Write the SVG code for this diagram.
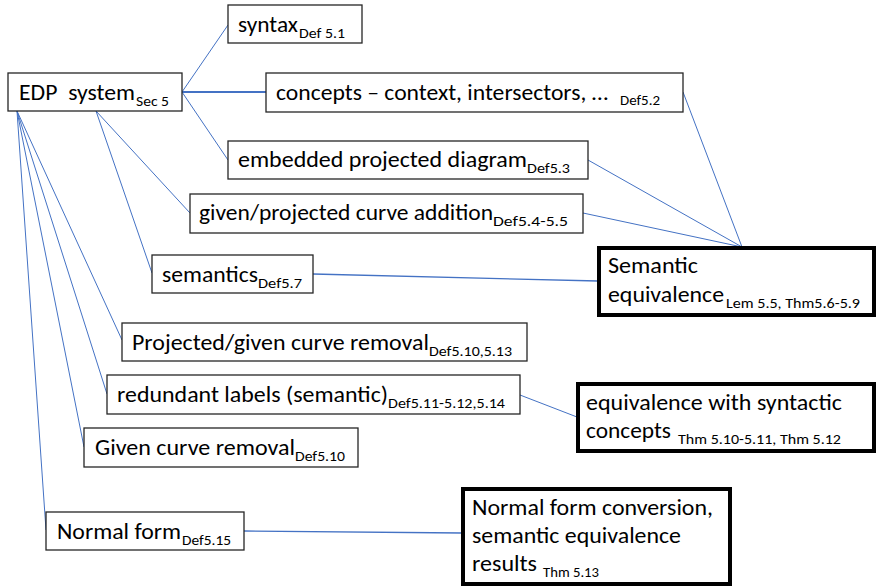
<svg xmlns="http://www.w3.org/2000/svg" width="876" height="588" viewBox="0 0 876 588">
<style>
.box{fill:#fff;stroke:#262626;stroke-width:1.3}
.tbox{fill:#fff;stroke:#000;stroke-width:4}
.c{stroke:#4472C4;stroke-width:1;fill:none}
.m{font-family:Calibri,Carlito,"Liberation Sans",Arial,sans-serif;font-size:23px;fill:#000}
.s{font-family:Calibri,Carlito,"Liberation Sans",Arial,sans-serif;font-size:14px;fill:#000}
</style>
<rect width="876" height="588" fill="#fff"/>
<g id="connectors">
<line class="c" x1="182" y1="92" x2="228" y2="25"/>
<line class="c" x1="182" y1="92" x2="266" y2="92" style="stroke-width:2"/>
<line class="c" x1="182" y1="92" x2="228" y2="160"/>
<line class="c" x1="96" y1="111" x2="190" y2="213"/>
<line class="c" x1="96" y1="111" x2="152" y2="273"/>
<line class="c" x1="17" y1="111" x2="122" y2="340"/>
<line class="c" x1="17" y1="111" x2="107" y2="394"/>
<line class="c" x1="17" y1="111" x2="84" y2="447"/>
<line class="c" x1="17" y1="111" x2="46" y2="530"/>
<line class="c" x1="683" y1="92" x2="742" y2="247"/>
<line class="c" x1="588" y1="160" x2="742" y2="247"/>
<line class="c" x1="583" y1="213" x2="742" y2="247"/>
<line class="c" x1="313" y1="274" x2="598" y2="281" style="stroke-width:1.3"/>
<line class="c" x1="520" y1="395" x2="577" y2="417"/>
<line class="c" x1="244" y1="531" x2="462" y2="533" style="stroke-width:1.3"/>
</g>
<g id="edp">
<rect class="box" x="8" y="73" width="174" height="38"/>
<text class="m" x="19" y="100" xml:space="preserve" textLength="116" lengthAdjust="spacingAndGlyphs">EDP  system</text>
<text class="s" x="136" y="106" textLength="33" lengthAdjust="spacingAndGlyphs">Sec 5</text>
</g>
<g id="syntax">
<rect class="box" x="228" y="5" width="134" height="38"/>
<text class="m" x="238" y="32" textLength="60" lengthAdjust="spacingAndGlyphs">syntax</text>
<text class="s" x="299" y="38" textLength="46" lengthAdjust="spacingAndGlyphs">Def 5.1</text>
</g>
<g id="concepts">
<rect class="box" x="266" y="73" width="417" height="39"/>
<text class="m" x="276" y="100" textLength="332" lengthAdjust="spacingAndGlyphs">concepts – context, intersectors, …</text>
<text class="s" x="620" y="105" textLength="40" lengthAdjust="spacingAndGlyphs">Def5.2</text>
</g>
<g id="embedded">
<rect class="box" x="228" y="141" width="360" height="38"/>
<text class="m" x="238" y="167" textLength="289" lengthAdjust="spacingAndGlyphs">embedded projected diagram</text>
<text class="s" x="527" y="173" textLength="43" lengthAdjust="spacingAndGlyphs">Def5.3</text>
</g>
<g id="addition">
<rect class="box" x="190" y="194" width="393" height="39"/>
<text class="m" x="199" y="220" textLength="294" lengthAdjust="spacingAndGlyphs">given/projected curve addition</text>
<text class="s" x="493" y="226" textLength="75" lengthAdjust="spacingAndGlyphs">Def5.4-5.5</text>
</g>
<g id="semantics">
<rect class="box" x="152" y="255" width="161" height="38"/>
<text class="m" x="162" y="282" textLength="96" lengthAdjust="spacingAndGlyphs">semantics</text>
<text class="s" x="258" y="288" textLength="44" lengthAdjust="spacingAndGlyphs">Def5.7</text>
</g>
<g id="semantic-equivalence">
<rect class="tbox" x="599" y="248" width="275" height="67"/>
<text class="m" x="608" y="273" textLength="90" lengthAdjust="spacingAndGlyphs">Semantic</text>
<text class="m" x="608" y="302" textLength="116" lengthAdjust="spacingAndGlyphs">equivalence</text>
<text class="s" x="726" y="308" textLength="134" lengthAdjust="spacingAndGlyphs">Lem 5.5, Thm5.6-5.9</text>
</g>
<g id="projected-removal">
<rect class="box" x="122" y="323" width="405" height="38"/>
<text class="m" x="132" y="350" textLength="297" lengthAdjust="spacingAndGlyphs">Projected/given curve removal</text>
<text class="s" x="429" y="356" textLength="83" lengthAdjust="spacingAndGlyphs">Def5.10,5.13</text>
</g>
<g id="redundant">
<rect class="box" x="107" y="375" width="413" height="39"/>
<text class="m" x="117" y="402" textLength="271" lengthAdjust="spacingAndGlyphs">redundant labels (semantic)</text>
<text class="s" x="388" y="408" textLength="117" lengthAdjust="spacingAndGlyphs">Def5.11-5.12,5.14</text>
</g>
<g id="given-removal">
<rect class="box" x="84" y="428" width="274" height="39"/>
<text class="m" x="95" y="455" textLength="200" lengthAdjust="spacingAndGlyphs">Given curve removal</text>
<text class="s" x="295" y="461" textLength="50" lengthAdjust="spacingAndGlyphs">Def5.10</text>
</g>
<g id="syntactic-equivalence">
<rect class="tbox" x="578" y="384" width="296" height="67"/>
<text class="m" x="586" y="410" textLength="256" lengthAdjust="spacingAndGlyphs">equivalence with syntactic</text>
<text class="m" x="586" y="438" textLength="85" lengthAdjust="spacingAndGlyphs">concepts</text>
<text class="s" x="678" y="444" textLength="163" lengthAdjust="spacingAndGlyphs">Thm 5.10-5.11, Thm 5.12</text>
</g>
<g id="normal-form">
<rect class="box" x="46" y="512" width="198" height="38"/>
<text class="m" x="57" y="539" textLength="124" lengthAdjust="spacingAndGlyphs">Normal form</text>
<text class="s" x="182" y="545" textLength="49" lengthAdjust="spacingAndGlyphs">Def5.15</text>
</g>
<g id="normal-form-conversion">
<rect class="tbox" x="463" y="489" width="267" height="95"/>
<text class="m" x="472" y="515" textLength="241" lengthAdjust="spacingAndGlyphs">Normal form conversion,</text>
<text class="m" x="472" y="543" textLength="209" lengthAdjust="spacingAndGlyphs">semantic equivalence</text>
<text class="m" x="472" y="571" textLength="65" lengthAdjust="spacingAndGlyphs">results</text>
<text class="s" x="543" y="577" textLength="56" lengthAdjust="spacingAndGlyphs">Thm 5.13</text>
</g>
</svg>
